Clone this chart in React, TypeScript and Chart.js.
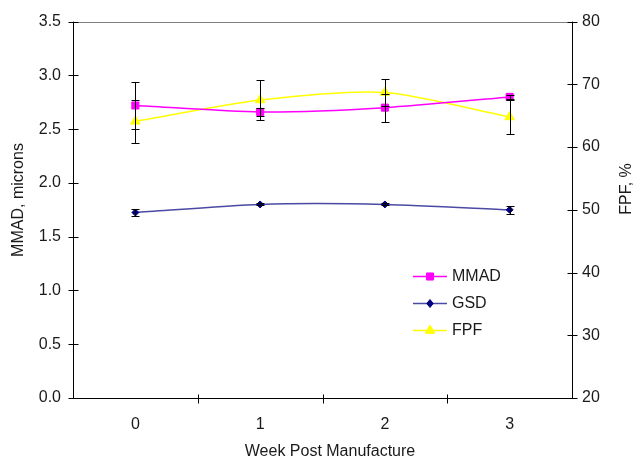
import React, { useEffect, useRef } from "react";
import { Chart, registerables } from "chart.js";

Chart.register(...registerables);

const weeks = ["0", "1", "2", "3"];
const mmad = [2.72, 2.66, 2.7, 2.8];
const mmadErr = [0.22, 0.04, 0.13, 0.02];
const gsd = [1.725, 1.8, 1.8, 1.75];
const gsdErr = [0.035, 0.01, 0.01, 0.035];
const fpf = [64.1, 67.5, 68.7, 64.8];
const fpfErr = [3.4, 3.2, 2.2, 2.7];
const leftTicks = [0, 0.5, 1, 1.5, 2, 2.5, 3, 3.5];
const rightTicks = [20, 30, 40, 50, 60, 70, 80];

const FONT = "'Liberation Sans', Arial, sans-serif";
const FS = 16;
const TXT = "#1a1a1a";

function drawMarker(ctx: CanvasRenderingContext2D, style: string, x: number, y: number, r: number) {
  ctx.beginPath();
  if (style === "rect") {
    const s = Math.SQRT1_2 * r;
    ctx.rect(x - s, y - s, 2 * s, 2 * s);
  } else if (style === "rectRot") {
    ctx.moveTo(x, y - r);
    ctx.lineTo(x + r * 0.8, y);
    ctx.lineTo(x, y + r);
    ctx.lineTo(x - r * 0.8, y);
    ctx.closePath();
  } else {
    ctx.moveTo(x, y - r);
    ctx.lineTo(x + r * 0.866, y + r * 0.5);
    ctx.lineTo(x - r * 0.866, y + r * 0.5);
    ctx.closePath();
  }
  ctx.fill();
  ctx.stroke();
}

const framePlugin = {
  id: "frame",
  afterDatasetsDraw(chart: any) {
    const { ctx, chartArea: a, scales } = chart;
    const x = scales.x, y = scales.y, y1 = scales.y1;
    ctx.save();
    // error bars
    ctx.strokeStyle = "#000";
    ctx.lineWidth = 1;
    const bars = [
      { vals: mmad, errs: mmadErr, s: y },
      { vals: gsd, errs: gsdErr, s: y },
      { vals: fpf, errs: fpfErr, s: y1 },
    ];
    bars.forEach((b) => {
      b.vals.forEach((v, i) => {
        const px = Math.round(x.getPixelForValue(i)) + 0.5;
        const top = Math.round(b.s.getPixelForValue(v + b.errs[i])) + 0.5;
        const bot = Math.round(b.s.getPixelForValue(v - b.errs[i])) + 0.5;
        ctx.beginPath();
        ctx.moveTo(px, top);
        ctx.lineTo(px, bot);
        ctx.moveTo(px - 4, top);
        ctx.lineTo(px + 4, top);
        ctx.moveTo(px - 4, bot);
        ctx.lineTo(px + 4, bot);
        ctx.stroke();
      });
    });
    // top border
    ctx.strokeStyle = "#808080";
    ctx.beginPath();
    ctx.moveTo(a.left, Math.round(a.top) + 0.5);
    ctx.lineTo(a.right, Math.round(a.top) + 0.5);
    ctx.stroke();
    // axes
    ctx.strokeStyle = "#000";
    const L = Math.round(a.left) + 0.5;
    const R = Math.round(a.right) + 0.5;
    const B = Math.round(a.bottom) + 0.5;
    ctx.beginPath();
    ctx.moveTo(L, a.top);
    ctx.lineTo(L, B);
    ctx.moveTo(R, a.top);
    ctx.lineTo(R, B);
    ctx.moveTo(L, B);
    ctx.lineTo(R, B);
    leftTicks.forEach((t) => {
      const py = Math.round(y.getPixelForValue(t)) + 0.5;
      ctx.moveTo(L - 5, py);
      ctx.lineTo(L + 5, py);
    });
    rightTicks.forEach((t) => {
      const py = Math.round(y1.getPixelForValue(t)) + 0.5;
      ctx.moveTo(R - 5, py);
      ctx.lineTo(R + 5, py);
    });
    for (let i = 0; i < weeks.length - 1; i++) {
      const px = Math.round((x.getPixelForValue(i) + x.getPixelForValue(i + 1)) / 2) + 0.5;
      ctx.moveTo(px, B - 4);
      ctx.lineTo(px, B + 5);
    }
    ctx.stroke();

    // titles
    ctx.fillStyle = TXT;
    ctx.font = `${FS}px ${FONT}`;
    ctx.textAlign = "center";
    ctx.textBaseline = "middle";
    ctx.fillText("Week Post Manufacture", 330, 452);
    ctx.save();
    ctx.translate(19, 200);
    ctx.rotate(-Math.PI / 2);
    ctx.fillText("MMAD, microns", 0, 0);
    ctx.restore();
    ctx.save();
    ctx.translate(627, 189);
    ctx.rotate(-Math.PI / 2);
    ctx.fillText("FPF, %", 0, 0);
    ctx.restore();

    // legend
    const items = [
      { label: "MMAD", color: "#FF00FF", line: "#FF00FF", style: "rect", r: 5, y: 276 },
      { label: "GSD", color: "#000080", line: "#4a4aa5", style: "rectRot", r: 4, y: 303 },
      { label: "FPF", color: "#FFFF00", line: "#FFFF00", style: "triangle", r: 5.5, y: 330 },
    ];
    items.forEach((it) => {
      ctx.strokeStyle = it.line;
      ctx.lineWidth = 1.5;
      ctx.beginPath();
      ctx.moveTo(413, it.y + 0.5);
      ctx.lineTo(447, it.y + 0.5);
      ctx.stroke();
      ctx.fillStyle = it.color;
      ctx.strokeStyle = it.color;
      ctx.lineWidth = 1;
      drawMarker(ctx, it.style, 430, it.y + 0.5, it.r);
      ctx.fillStyle = TXT;
      ctx.textAlign = "left";
      ctx.fillText(it.label, 452, it.y + 1);
    });
    ctx.restore();
  },
};

export default function App() {
  const ref = useRef<HTMLCanvasElement>(null);
  useEffect(() => {
    if (!ref.current) return;
    const tickFont = { family: FONT, size: FS };
    const chart = new Chart(ref.current, {
      type: "line",
      data: {
        labels: weeks,
        datasets: [
          {
            label: "MMAD",
            data: mmad,
            yAxisID: "y",
            borderColor: "#FF00FF",
            backgroundColor: "#FF00FF",
            borderWidth: 1.5,
            pointStyle: "rect",
            pointRadius: 5,
            pointBorderWidth: 1,
            tension: 0.25,
          },
          {
            label: "GSD",
            data: gsd,
            yAxisID: "y",
            borderColor: "#4a4aa5",
            backgroundColor: "#000080",
            pointBorderColor: "#000080",
            borderWidth: 1.5,
            pointStyle: "rectRot",
            pointRadius: 3.5,
            pointBorderWidth: 1,
            tension: 0.25,
          },
          {
            label: "FPF",
            data: fpf,
            yAxisID: "y1",
            borderColor: "#FFFF00",
            backgroundColor: "#FFFF00",
            borderWidth: 1.5,
            pointStyle: "triangle",
            pointRadius: 5.5,
            pointBorderWidth: 1,
            tension: 0.25,
          },
        ],
      },
      options: {
        responsive: false,
        animation: false,
        layout: { padding: { top: 20, left: 0, right: 0, bottom: 0 } },
        plugins: { legend: { display: false }, tooltip: { enabled: false } },
        scales: {
          x: {
            offset: true,
            grid: { display: false, drawTicks: false },
            border: { display: false },
            ticks: { color: TXT, font: tickFont, padding: 17 },
            afterFit: (s: any) => {
              s.height = 62;
            },
          },
          y: {
            position: "left",
            min: 0,
            max: 3.5,
            afterBuildTicks: (s: any) => {
              s.ticks = leftTicks.map((v) => ({ value: v }));
            },
            grid: { display: false, drawTicks: false },
            border: { display: false },
            ticks: {
              color: TXT,
              font: tickFont,
              padding: 12,
              callback: (v: any) => Number(v).toFixed(1),
            },
            afterFit: (s: any) => {
              s.width = 73;
            },
          },
          y1: {
            position: "right",
            min: 20,
            max: 80,
            afterBuildTicks: (s: any) => {
              s.ticks = rightTicks.map((v) => ({ value: v }));
            },
            grid: { display: false, drawTicks: false },
            border: { display: false },
            ticks: { color: TXT, font: tickFont, padding: 10 },
            afterFit: (s: any) => {
              s.width = 64;
            },
          },
        },
      },
      plugins: [framePlugin],
    });
    return () => chart.destroy();
  }, []);
  return (
    <div style={{ position: "fixed", left: 0, top: 0, width: 636, height: 460, background: "#fff" }}>
      <canvas ref={ref} width={636} height={460} />
    </div>
  );
}
